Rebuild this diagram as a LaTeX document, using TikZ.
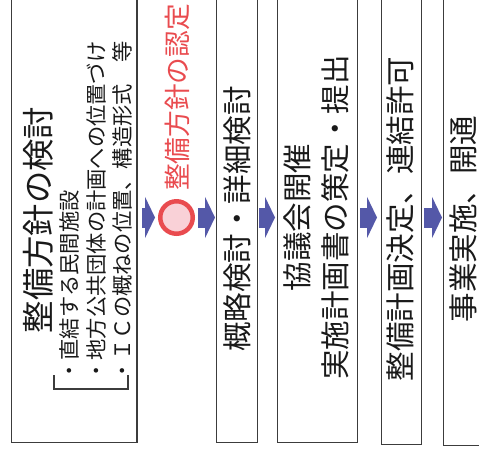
\documentclass[tikz,border=0pt]{standalone}
\usepackage{fontspec}
\usepackage{xcolor}
\usepackage{tikz}
\usetikzlibrary{arrows.meta,positioning}
\newfontfamily\jpfont{Noto Sans CJK JP}
\definecolor{flowBlue}{HTML}{5458A8}
\definecolor{certRed}{HTML}{E94B4F}
\definecolor{certPink}{HTML}{F9D1D7}
\definecolor{boxGray}{HTML}{3C3C3C}

\begin{document}
\begin{tikzpicture}[
  x=0.02cm, y=-0.02cm,
  every node/.style={font=\jpfont, text=black!90},
  stage/.style={draw=boxGray, line width=0.8pt, inner sep=0pt, anchor=south west},
  headline/.style={rotate=90, font=\jpfont\fontsize{18.4}{22}\selectfont},
  item/.style={rotate=90, anchor=west, inner sep=0pt,
             font=\jpfont\fontsize{12.1}{14}\selectfont},
  task/.style={rotate=90, align=center, inner sep=0pt,
             font=\jpfont\fontsize{16.8}{21.6}\selectfont},
  cert/.style={circle, draw=certRed, fill=certPink, line width=0.09cm,
             minimum size=0.65cm, inner sep=0pt},
  flow/.style={flowBlue, line width=0.4cm,
             -{Triangle[length=0.2cm, width=0.82cm]}},
]
\useasboundingbox (0,0) rectangle (479,457);

% Stages
\node[stage, minimum width=2.516cm, minimum height=8.92cm] (plan) at (10.7,443) {};
\node[stage, minimum width=0.82cm, minimum height=8.92cm] (study) at (216,443) {};
\node[stage, minimum width=1.6cm, minimum height=8.92cm] (council) at (277,443) {};
\node[stage, minimum width=0.8cm, minimum height=8.96cm] (permit) at (381,445) {};
\node[stage, minimum width=0.9cm, minimum height=8.98cm] (open) at (443,446) {};

% Stage texts
\node[headline] (plantitle) at (38,220) {整備方針の検討};
\node[item] (item1) at (69,382) {・直結する民間施設};
\node[item] (item2) at (96,382) {・地方公共団体の計画への位置づけ};
\node[item] (item3) at (122,382) {・ＩＣの概ねの位置、構造形式　等};
\draw[boxGray, line width=0.6pt] (54,375) -- (54,389) -- (128,389) -- (128,375);

\node[task] (studytext) at (237,219) {概略検討・詳細検討};
\node[task] (counciltext) at (316,217.5) {協議会開催\\実施計画書の策定・提出};
\node[task] (permittext) at (400,219) {整備計画決定、連結許可};
\node[task] (opentext) at (463,219) {事業実施、開通};

% Approval
\node[cert] (approval) at (176.5,217.5) {};
\node[rotate=90, text=certRed, font=\jpfont\fontsize{15.2}{18}\selectfont]
  (approvaltext) at (177,97.5) {整備方針の認定};

% Flow
\draw[flow, shorten <=0.09cm, shorten >=0.06cm] (plan.east |- approval) -- (approval.west);
\draw[flow, shorten <=0.06cm, shorten >=0.02cm] (approval.east) -- (study.west |- approval);
\draw[flow, shorten <=0.02cm, shorten >=0.04cm] (study.east |- approval) -- (council.west |- approval);
\draw[flow, shorten <=0.04cm, shorten >=0.08cm] (council.east |- approval) -- (permit.west |- approval);
\draw[flow, shorten <=0.04cm, shorten >=0.02cm] (permit.east |- approval) -- (open.west |- approval);

\end{tikzpicture}
\end{document}
